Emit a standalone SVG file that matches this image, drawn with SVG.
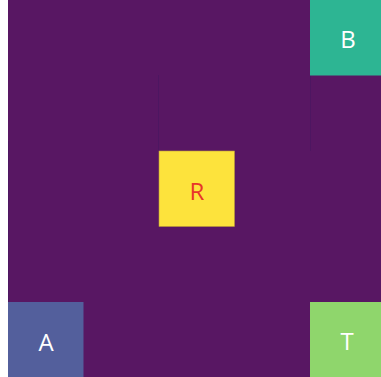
<svg xmlns="http://www.w3.org/2000/svg" width="381" height="377" viewBox="0 0 381 377">
<style>
.lbl{font-family:"Open Sans","Liberation Sans",sans-serif;font-size:24px;text-anchor:middle;dominant-baseline:central;fill:#ffffff}
.edge{stroke:#4d1661;stroke-width:1;fill:none}
</style>
<rect x="0" y="0" width="381" height="377" fill="#ffffff"/>
<rect x="8" y="0" width="373" height="377" fill="#581763"/>
<g id="connectors">
<line class="edge" x1="158.5" y1="75" x2="158.5" y2="151"/>
<line class="edge" x1="310.5" y1="75" x2="310.5" y2="151"/>
<line class="edge" x1="8.5" y1="141" x2="8.5" y2="377" stroke="#3d1150"/>
</g>
<g id="B">
<rect x="310" y="0" width="71" height="75.5" fill="#2db593"/>
<text class="lbl" x="348" y="38">B</text>
</g>
<g id="R">
<rect x="159" y="151" width="75.5" height="75.5" fill="#fde33c" stroke="#b99a3a" stroke-width="0.6"/>
<text class="lbl" x="197" y="190" style="fill:#e8352a">R</text>
</g>
<g id="A">
<rect x="8" y="302" width="75.5" height="75" fill="#535f9c"/>
<text class="lbl" x="46" y="341">A</text>
</g>
<g id="T">
<rect x="310" y="302" width="71" height="75" fill="#8fd66c"/>
<text class="lbl" x="347" y="340">T</text>
</g>
</svg>
